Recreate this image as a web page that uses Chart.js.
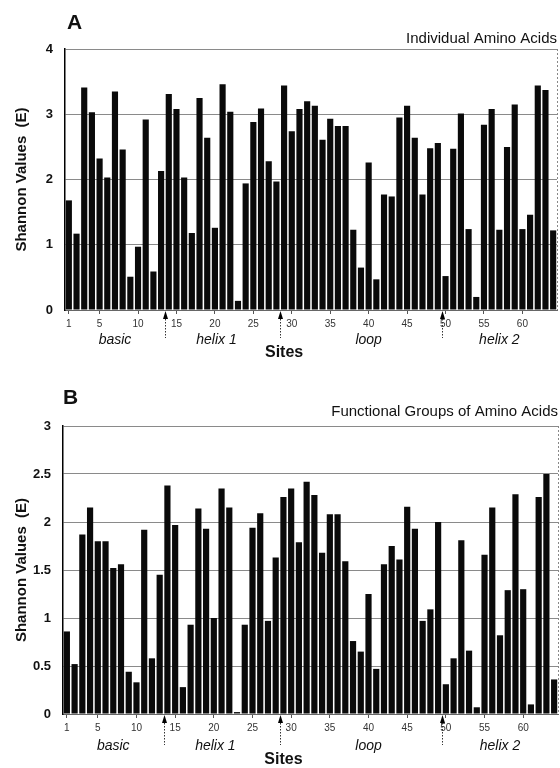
<!DOCTYPE html>
<html>
<head>
<meta charset="utf-8">
<script src="https://cdn.jsdelivr.net/npm/chart.js@4"></script>
<style>
  html, body { margin: 0; padding: 0; background: #fff; }
  #wrap { position: relative; width: 560px; height: 768px; }
  canvas { position: absolute; left: 0; }
  #chartA { top: 0; }
  #chartB { top: 380px; }
</style>
</head>
<body>
<div id="wrap">
  <canvas id="chartA" width="560" height="368"></canvas>
  <canvas id="chartB" width="560" height="388"></canvas>
</div>
<script>
// sites 1..64 along the x axis
const sites = [];
for (let i = 1; i <= 64; i++) sites.push(String(i));

// only these sites get a tick label
const tickSites = [1, 5, 10, 15, 20, 25, 30, 35, 40, 45, 50, 55, 60];

// domain names and where they sit (site number) under the axis
const regionNames = ["basic", "helix 1", "loop", "helix 2"];
const regionCenters = [7, 20.2, 40, 57];
// arrows between domains
const boundaries = [13.5, 28.5, 49.5];

// Panel A - individual amino acids
const entropyIndividual = [
  1.68, 1.17, 3.41, 3.03, 2.32, 2.03, 3.35, 2.46, 0.51, 0.97,
  2.92, 0.59, 2.13, 3.31, 3.08, 2.03, 1.18, 3.25, 2.64, 1.26,
  3.46, 3.04, 0.14, 1.94, 2.88, 3.09, 2.28, 1.97, 3.44, 2.74,
  3.08, 3.2, 3.13, 2.61, 2.93, 2.82, 2.82, 1.23, 0.65, 2.26,
  0.47, 1.77, 1.74, 2.95, 3.13, 2.64, 1.77, 2.48, 2.56, 0.52,
  2.47, 3.01, 1.24, 0.2, 2.84, 3.08, 1.23, 2.5, 3.15, 1.24,
  1.46, 3.44, 3.37, 1.22,
];

// Panel B - functional groups of amino acids
const entropyGroups = [
  0.86, 0.52, 1.87, 2.15, 1.8, 1.8, 1.52, 1.56, 0.44, 0.33,
  1.92, 0.58, 1.45, 2.38, 1.97, 0.28, 0.93, 2.14, 1.93, 1.0,
  2.35, 2.15, 0.02, 0.93, 1.94, 2.09, 0.97, 1.63, 2.26, 2.35,
  1.79, 2.42, 2.28, 1.68, 2.08, 2.08, 1.59, 0.76, 0.65, 1.25,
  0.47, 1.56, 1.75, 1.61, 2.16, 1.93, 0.97, 1.09, 2.0, 0.31,
  0.58, 1.81, 0.66, 0.07, 1.66, 2.15, 0.82, 1.29, 2.29, 1.3,
  0.1, 2.26, 2.5, 0.36,
];

const FONT = "Arial, 'Liberation Sans', Helvetica, sans-serif";
Chart.defaults.font.family = FONT;
Chart.defaults.color = "#111";

// draws panel letter, subtitle, domain names, arrows and "Sites"
const panelDecor = {
  id: "panelDecor",
  afterDraw: (chart, args, o) => {
    const { ctx, chartArea } = chart;
    const xs = chart.scales.x;
    const bottom = chartArea.bottom;
    ctx.save();

    // dotted right frame
    ctx.strokeStyle = "#888";
    ctx.lineWidth = 1;
    ctx.setLineDash([2, 2]);
    ctx.beginPath();
    ctx.moveTo(chartArea.right + 0.5, chartArea.top);
    ctx.lineTo(chartArea.right + 0.5, bottom);
    ctx.stroke();
    ctx.setLineDash([]);

    ctx.fillStyle = "#111";
    ctx.textBaseline = "middle";

    ctx.textAlign = "left";
    ctx.font = "bold 21px " + FONT;
    ctx.fillText(o.letter, chartArea.left + o.letterDx, chartArea.top - o.letterDy);

    ctx.textAlign = "right";
    ctx.font = "15px " + FONT;
    ctx.fillText(o.subtitle, chartArea.right, chartArea.top - o.subtitleDy);

    ctx.textAlign = "center";
    ctx.font = "italic 14px " + FONT;
    for (let i = 0; i < regionNames.length; i++) {
      ctx.fillText(regionNames[i], xs.getPixelForValue(regionCenters[i] - 1), bottom + o.regionDy);
    }

    ctx.font = "bold 16px " + FONT;
    ctx.fillText("Sites", xs.getPixelForValue(o.sitesAt - 1), bottom + o.sitesDy);

    // arrows pointing up to the axis
    for (let b of boundaries) {
      const x = Math.round(xs.getPixelForValue(b - 1)) + 0.5;
      ctx.strokeStyle = "#333";
      ctx.setLineDash([1.5, 1.5]);
      ctx.beginPath();
      ctx.moveTo(x, bottom + 6);
      ctx.lineTo(x, bottom + o.arrowLen);
      ctx.stroke();
      ctx.setLineDash([]);
      ctx.fillStyle = "#000";
      ctx.beginPath();
      ctx.moveTo(x, bottom + 1);
      ctx.lineTo(x - 2.5, bottom + 9);
      ctx.lineTo(x + 2.5, bottom + 9);
      ctx.closePath();
      ctx.fill();
    }
    ctx.restore();
  },
};

function makeChart(id, values, yMax, step, lay, decor) {
  return new Chart(document.getElementById(id), {
    type: "bar",
    data: {
      labels: sites,
      datasets: [
        {
          data: values,
          backgroundColor: "#0a0a0a",
          borderWidth: 0,
          barPercentage: 0.8,
          categoryPercentage: 1,
        },
      ],
    },
    options: {
      responsive: false,
      animation: false,
      devicePixelRatio: 1,
      layout: { padding: { top: lay.top, right: lay.right, left: 0, bottom: 0 } },
      plugins: {
        legend: { display: false },
        tooltip: { enabled: false },
        panelDecor: decor,
      },
      scales: {
        x: {
          afterFit: (s) => { s.height = lay.xHeight; },
          grid: {
            display: true,
            drawOnChartArea: false,
            offset: false,
            tickLength: 4,
            color: (c) => (tickSites.includes(c.index + 1) ? "#555" : "rgba(0,0,0,0)"),
          },
          border: { display: true, color: "#666" },
          ticks: {
            autoSkip: false,
            maxRotation: 0,
            padding: 4,
            color: "#333",
            font: { size: 10 },
            callback: (v, i) => (tickSites.includes(i + 1) ? String(i + 1) : ""),
          },
        },
        y: {
          min: 0,
          max: yMax,
          afterFit: (s) => { s.width = lay.yWidth; },
          grid: { color: "#8a8a8a", drawTicks: false },
          border: { display: true, color: "#000", width: 1.5 },
          ticks: {
            stepSize: step,
            padding: 12,
            color: "#111",
            font: { size: 13, weight: "bold" },
            // 3, 2.5, 2 ... not 3.0, 2.0
            callback: (v) => String(Math.round(v * 10) / 10),
          },
          title: {
            display: true,
            text: "Shannon Values  (E)",
            color: "#111",
            font: { size: 15, weight: "bold" },
            padding: { top: 13, bottom: 0 },
          },
        },
      },
    },
    plugins: [panelDecor],
  });
}

var chartA = makeChart("chartA", entropyIndividual, 4, 1,
  { top: 49, right: 3, yWidth: 65, xHeight: 58 },
  { letter: "A", letterDx: 2, letterDy: 26, subtitle: "Individual Amino Acids", subtitleDy: 10,
    regionDy: 30, sitesDy: 43, sitesAt: 29, arrowLen: 28 });

var chartB = makeChart("chartB", entropyGroups, 3, 0.5,
  { top: 46, right: 2, yWidth: 63, xHeight: 54 },
  { letter: "B", letterDx: 0, letterDy: 28, subtitle: "Functional Groups of Amino Acids", subtitleDy: 14,
    regionDy: 32, sitesDy: 46, sitesAt: 29, arrowLen: 31 });
</script>
</body>
</html>
